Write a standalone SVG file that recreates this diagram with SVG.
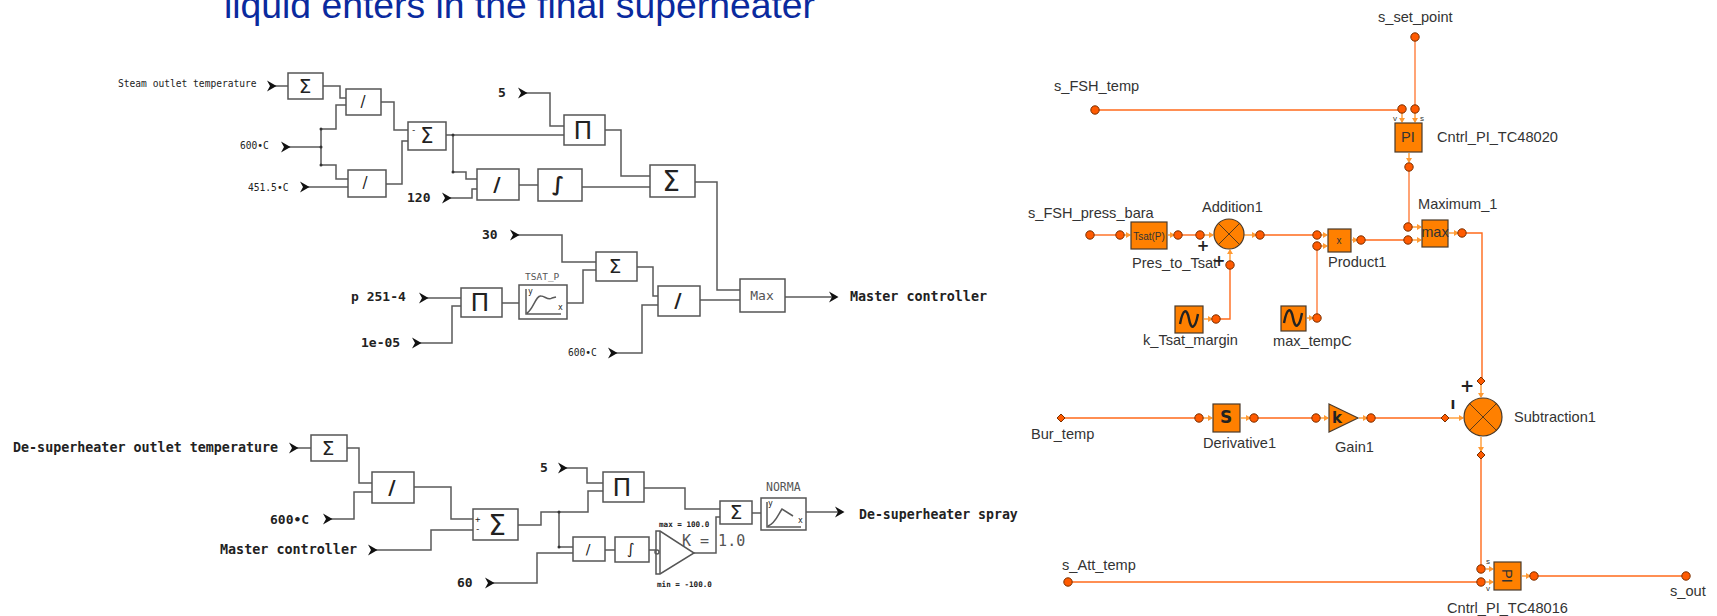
<svg xmlns="http://www.w3.org/2000/svg" width="1717" height="616" viewBox="0 0 1717 616">
<style>
.w{fill:none;stroke:#5a5a5a;stroke-width:1.5}
.b{fill:#fff;stroke:#555;stroke-width:1.5}
.m{font-family:"DejaVu Sans Mono","Liberation Mono",monospace;fill:#222;dominant-baseline:central}
.g{fill:#555}
.sym{font-family:"DejaVu Sans",sans-serif;fill:#222;text-anchor:middle;dominant-baseline:central}
.o{fill:none;stroke:#ff6a1a;stroke-width:1.4}
.ol{fill:none;stroke:#ff9a66;stroke-width:1.8}
.s{fill:none;stroke:#ff9a33;stroke-width:1.4;marker-end:url(#tip)}
.ob{fill:#ff8000;stroke:#4a3a2a;stroke-width:1.2}
.d{fill:#ff5a00;stroke:#7a3000;stroke-width:1}
.t{font-family:"Liberation Sans",Arial,sans-serif;font-size:14.6px;fill:#333;dominant-baseline:central}
.t8{font-size:8px}
.t10{font-size:10px}
.k{fill:none;stroke:#222;stroke-width:2.4}
.x{fill:none;stroke:#5a3a1a;stroke-width:1}
.j{fill:#333}
</style>
<defs>
<marker id="chev" markerUnits="userSpaceOnUse" markerWidth="13" markerHeight="13" refX="3" refY="6" orient="auto"><path d="M0,0.5 L9.5,6 L0,11.5 L3,6Z" fill="#111"/></marker>
<marker id="tip" markerUnits="userSpaceOnUse" markerWidth="6" markerHeight="6" refX="4" refY="3" orient="auto"><path d="M0,0 L5,3 L0,6Z" fill="#ff9a33"/></marker>
<circle id="dot" r="4.2" class="d"/>
<path id="dia" d="M0,-4 L4,0 L0,4 L-4,0Z" class="d"/>
<g id="wave"><path d="M-9,5 C-6,-11 -2,-11 0,0 C2,11 6,11 9,-5" class="k"/></g>
</defs>

<text id="title" x="224" y="18" font-family="Liberation Sans,Arial,sans-serif" font-size="37.3" fill="#0a2a9e">liquid enters in the final superheater</text>

<g id="connectors">
<g id="left-wires">
<path class="w" marker-start="url(#chev)" d="M270,86H288"/>
<path class="w" d="M323,86H340V98H346"/>
<path class="w" marker-start="url(#chev)" d="M284,147H321"/>
<path class="w" d="M321,129V165M321,129H336V105H346M321,165H336V179H348"/>
<path class="w" marker-start="url(#chev)" d="M303,187H348"/>
<path class="w" d="M381,102H394V130H408"/>
<path class="w" d="M386,184H402V141H408"/>
<path class="w" d="M446,135H564"/>
<path class="w" d="M453,135V172H466V179H477"/>
<path class="w" marker-start="url(#chev)" d="M445,198H472V189H477"/>
<path class="w" d="M519,185H538M582,187H650"/>
<path class="w" marker-start="url(#chev)" d="M521,93H550V126H564"/>
<path class="w" d="M605,130H621V176H650"/>
<path class="w" d="M695,182H717V290H740"/>
<path class="w" marker-start="url(#chev)" d="M513,235H562V262H596"/>
<path class="w" marker-start="url(#chev)" d="M422,298H461"/>
<path class="w" marker-start="url(#chev)" d="M415,343H452V306H461"/>
<path class="w" d="M502,303H519M567,303H583V270H596"/>
<path class="w" d="M637,267H653V296H658"/>
<path class="w" marker-start="url(#chev)" d="M611,353H642V305H658"/>
<path class="w" d="M700,300H740"/>
<path class="w" marker-end="url(#chev)" d="M785,297H832"/>
<path class="w" marker-start="url(#chev)" d="M292,448H311"/>
<path class="w" d="M347,448H359V483H372"/>
<path class="w" marker-start="url(#chev)" d="M326,519H354V492H372"/>
<path class="w" d="M414,487H451V519H473"/>
<path class="w" marker-start="url(#chev)" d="M371,550H431V530H473"/>
<path class="w" marker-start="url(#chev)" d="M488,583H537V553H573"/>
<path class="w" d="M518,525H541V512H588V491H603"/>
<path class="w" d="M559,512V547H573"/>
<path class="w" marker-start="url(#chev)" d="M561,468H587V483H603"/>
<path class="w" d="M605,550H615M649,550H656"/>
<path class="w" d="M644,488H685V509H720"/>
<path class="w" d="M694,553H716V517H720"/>
<path class="w" d="M752,513H761"/>
<path class="w" marker-end="url(#chev)" d="M806,512H838"/>
<g class="j"><circle cx="321" cy="147" r="1.5"/><circle cx="321" cy="129" r="1.5"/><circle cx="321" cy="165" r="1.5"/><circle cx="453" cy="135" r="1.5"/><circle cx="453" cy="172" r="1.5"/><circle cx="559" cy="512" r="1.5"/><circle cx="559" cy="547" r="1.5"/></g>
</g>
<g id="right-wires">
<path class="ol" d="M1415,38V109"/>
<path class="o" d="M1095,110H1402"/>
<path class="ol" d="M1409,167V227"/>
<path class="o" d="M1090,235H1120"/>
<path class="o" d="M1178,235H1200"/>
<path class="o" d="M1260,235H1317"/>
<path class="o" d="M1361,240H1408"/>
<path class="o" d="M1230,265V319H1216"/>
<path class="ol" d="M1317,246V318"/>
<path class="o" d="M1462,233H1482V381"/>
<path class="o" d="M1061,418H1199M1254,418H1316M1371,418H1444"/>
<path class="o" d="M1481,455V569"/>
<path class="o" d="M1068,582H1481"/>
<path class="o" d="M1534,576H1686"/>
<path class="s" d="M1402,113V122"/><path class="s" d="M1415,113V122"/><path class="s" d="M1409,153V162"/>
<path class="s" d="M1124,235H1130"/><path class="s" d="M1168,235H1174"/><path class="s" d="M1204,235H1213"/><path class="s" d="M1244,235H1256"/>
<path class="s" d="M1230,261V250"/>
<path class="s" d="M1204,319H1212"/><path class="s" d="M1307,318H1313"/>
<path class="s" d="M1321,235H1327"/><path class="s" d="M1321,246H1327"/><path class="s" d="M1352,240H1357"/>
<path class="s" d="M1412,227H1421"/><path class="s" d="M1412,240H1421"/><path class="s" d="M1449,233H1458"/>
<path class="s" d="M1203,418H1212"/><path class="s" d="M1241,418H1250"/><path class="s" d="M1320,418H1328"/><path class="s" d="M1359,418H1367"/>
<path class="s" d="M1449,418H1463"/><path class="s" d="M1481,385V397"/><path class="s" d="M1481,437V451"/>
<path class="s" d="M1486,569H1493"/><path class="s" d="M1486,582H1493"/><path class="s" d="M1522,576H1530"/>
</g>
</g>

<g id="n-steam"><text class="m" x="118" y="83" font-size="9.6">Steam outlet temperature</text></g>
<g id="n-600a"><text class="m" x="240" y="145" font-size="9.6">600•C</text></g>
<g id="n-451"><text class="m" x="248" y="187" font-size="9.6">451.5•C</text></g>
<g id="n-sum1"><rect class="b" x="288" y="73" width="35" height="26"/><text class="sym" x="305" y="86" font-size="20">Σ</text></g>
<g id="n-div1"><rect class="b" x="346" y="89" width="35" height="26"/><text class="sym" x="363" y="102" font-size="15">/</text></g>
<g id="n-div2"><rect class="b" x="348" y="170" width="38" height="27"/><text class="sym" x="365" y="183" font-size="15">/</text></g>
<g id="n-sum2"><rect class="b" x="408" y="122" width="38" height="28"/><text class="sym" x="427" y="136" font-size="21">Σ</text><text class="m" x="411" y="130" font-size="9">-</text></g>
<g id="n-5a"><text class="m" x="498" y="92" font-size="13" font-weight="bold">5</text></g>
<g id="n-120"><text class="m" x="407" y="197" font-size="13" font-weight="bold">120</text></g>
<g id="n-pi1"><rect class="b" x="564" y="115" width="41" height="30"/><text class="sym" x="583" y="130" font-size="25">Π</text></g>
<g id="n-div3"><rect class="b" x="477" y="169" width="42" height="31"/><text class="sym" x="497" y="184" font-size="20" font-weight="bold">/</text></g>
<g id="n-int1"><rect class="b" x="538" y="169" width="44" height="32"/><text class="sym" x="558" y="184" font-size="20" font-weight="bold">∫</text></g>
<g id="n-sum3"><rect class="b" x="650" y="165" width="45" height="32"/><text class="sym" x="671" y="181" font-size="28">Σ</text></g>
<g id="n-max"><rect class="b" x="740" y="279" width="45" height="33"/><text class="m g" x="762" y="295" font-size="13" text-anchor="middle">Max</text></g>
<g id="n-master-out"><text class="m" x="850" y="296" font-size="13.4" font-weight="bold">Master controller</text></g>
<g id="n-30"><text class="m" x="482" y="234" font-size="13" font-weight="bold">30</text></g>
<g id="n-sum4"><rect class="b" x="596" y="252" width="41" height="29"/><text class="sym" x="615" y="266" font-size="20">Σ</text></g>
<g id="n-div4"><rect class="b" x="658" y="286" width="42" height="30"/><text class="sym" x="678" y="300" font-size="20" font-weight="bold">/</text></g>
<g id="n-p251"><text class="m" x="351" y="296" font-size="13" font-weight="bold">p 251-4</text></g>
<g id="n-1e05"><text class="m" x="361" y="342" font-size="13" font-weight="bold">1e-05</text></g>
<g id="n-pi2"><rect class="b" x="461" y="288" width="41" height="29"/><text class="sym" x="480" y="302" font-size="25">Π</text></g>
<g id="n-tsat"><rect class="b" x="519" y="285" width="48" height="34"/><text class="m g" x="525" y="276" font-size="9.5">TSAT_P</text><path class="w" d="M526,289V314H561M527,313C533,310 536,295 541,296C545,296 548,301 552,298L556,297"/><text class="m" x="528" y="291" font-size="8">y</text><text class="m" x="558" y="307" font-size="8">x</text></g>
<g id="n-600b"><text class="m" x="568" y="352" font-size="9.6">600•C</text></g>

<g id="n-desup"><text class="m" x="13" y="447" font-size="13.35" font-weight="bold">De-superheater outlet temperature</text></g>
<g id="n-sum5"><rect class="b" x="311" y="435" width="36" height="26"/><text class="sym" x="328" y="448" font-size="20">Σ</text></g>
<g id="n-div5"><rect class="b" x="372" y="472" width="42" height="31"/><text class="sym" x="392" y="487" font-size="20" font-weight="bold">/</text></g>
<g id="n-600c"><text class="m" x="270" y="519" font-size="13" font-weight="bold">600•C</text></g>
<g id="n-master-in"><text class="m" x="220" y="549" font-size="13.4" font-weight="bold">Master controller</text></g>
<g id="n-sum6"><rect class="b" x="473" y="509" width="45" height="31"/><text class="sym" x="497" y="525" font-size="28">Σ</text><text class="m" x="475" y="519" font-size="9">+</text><text class="m" x="475" y="529" font-size="9">-</text></g>
<g id="n-60"><text class="m" x="457" y="582" font-size="13" font-weight="bold">60</text></g>
<g id="n-5b"><text class="m" x="540" y="467" font-size="13" font-weight="bold">5</text></g>
<g id="n-pi3"><rect class="b" x="603" y="472" width="41" height="30"/><text class="sym" x="622" y="487" font-size="25">Π</text></g>
<g id="n-div6"><rect class="b" x="573" y="537" width="32" height="24"/><text class="sym" x="588" y="549" font-size="14">/</text></g>
<g id="n-int2"><rect class="b" x="615" y="537" width="34" height="25"/><text class="sym" x="631" y="549" font-size="15">∫</text></g>
<g id="n-gain"><path class="b" d="M656,531H660L694,553L660,574H656Z"/><path class="w" d="M660,531V574"/><circle cx="657" cy="552" r="2" class="w"/><text class="m g" x="682" y="541" font-size="15">K = 1.0</text><text class="m" x="659" y="524" font-size="7.6" font-weight="bold">max = 100.0</text><text class="m" x="657" y="584" font-size="7.6" font-weight="bold">min = -100.0</text></g>
<g id="n-sum7"><rect class="b" x="720" y="501" width="32" height="23"/><text class="sym" x="736" y="512" font-size="20">Σ</text></g>
<g id="n-norma"><rect class="b" x="761" y="498" width="45" height="32"/><text class="m g" x="766" y="487" font-size="11.5">NORMA</text><path class="w" d="M767,502V527H801M768,526C775,524 778,515 782,509L793,516"/><text class="m" x="768" y="503" font-size="8">y</text><text class="m" x="798" y="520" font-size="8">x</text></g>
<g id="n-spray"><text class="m" x="859" y="514" font-size="13.2" font-weight="bold">De-superheater spray</text></g>

<g id="s_set_point"><text class="t" x="1378" y="17">s_set_point</text><use href="#dot" x="1415" y="37"/></g>
<g id="s_FSH_temp"><text class="t" x="1054" y="86">s_FSH_temp</text><use href="#dot" x="1095" y="110"/></g>
<g id="Cntrl_PI_TC48020"><use href="#dot" x="1402" y="109"/><use href="#dot" x="1415" y="109"/><rect class="ob" x="1395" y="123" width="27" height="29"/><text class="t" x="1408" y="137" text-anchor="middle">PI</text><text class="t t8" x="1395" y="118" text-anchor="middle">v</text><text class="t t8" x="1422" y="118" text-anchor="middle">s</text><use href="#dot" x="1409" y="167"/><text class="t" x="1437" y="137">Cntrl_PI_TC48020</text></g>
<g id="s_FSH_press_bara"><text class="t" x="1028" y="213">s_FSH_press_bara</text><use href="#dot" x="1090" y="235"/></g>
<g id="Pres_to_Tsat"><use href="#dot" x="1120" y="235"/><rect class="ob" x="1131" y="222" width="36" height="27"/><text class="t t10" x="1149" y="236" text-anchor="middle">Tsat(P)</text><use href="#dot" x="1178" y="235"/><text class="t" x="1132" y="263">Pres_to_Tsat</text></g>
<g id="Addition1"><use href="#dot" x="1200" y="235"/><circle class="ob" cx="1229" cy="234" r="15"/><path class="x" d="M1218,223L1240,245M1240,223L1218,245"/><use href="#dot" x="1260" y="235"/><use href="#dot" x="1230" y="265"/><text class="t" x="1202" y="207">Addition1</text><text class="sym" x="1203" y="246" font-size="15" font-weight="bold">+</text><text class="sym" x="1219" y="261" font-size="15" font-weight="bold">+</text></g>
<g id="k_Tsat_margin"><rect class="ob" x="1175" y="306" width="28" height="27"/><use href="#wave" x="1189" y="319"/><use href="#dot" x="1216" y="319"/><text class="t" x="1143" y="340">k_Tsat_margin</text></g>
<g id="max_tempC"><rect class="ob" x="1281" y="306" width="25" height="25"/><use href="#wave" x="1293" y="318"/><use href="#dot" x="1317" y="318"/><text class="t" x="1273" y="341">max_tempC</text></g>
<g id="Product1"><use href="#dot" x="1317" y="235"/><use href="#dot" x="1317" y="246"/><rect class="ob" x="1328" y="229" width="23" height="23"/><text class="t t10" x="1339" y="240" text-anchor="middle">x</text><use href="#dot" x="1361" y="240"/><text class="t" x="1328" y="262">Product1</text></g>
<g id="Maximum_1"><use href="#dot" x="1408" y="227"/><use href="#dot" x="1408" y="240"/><rect class="ob" x="1422" y="220" width="26" height="27"/><text class="t" x="1435" y="232" text-anchor="middle">max</text><use href="#dot" x="1462" y="233"/><text class="t" x="1418" y="204">Maximum_1</text></g>
<g id="Bur_temp"><use href="#dia" x="1061" y="418"/><text class="t" x="1031" y="434">Bur_temp</text></g>
<g id="Derivative1"><use href="#dot" x="1199" y="418"/><rect class="ob" x="1213" y="404" width="27" height="28"/><text class="sym" x="1226" y="417" font-size="17" font-weight="bold">S</text><use href="#dot" x="1254" y="418"/><text class="t" x="1203" y="443">Derivative1</text></g>
<g id="Gain1"><use href="#dot" x="1316" y="418"/><path class="ob" d="M1329,404L1358,418L1329,432Z"/><text class="sym" x="1337" y="418" font-size="15" font-weight="bold">k</text><use href="#dot" x="1371" y="418"/><text class="t" x="1335" y="447">Gain1</text></g>
<g id="Subtraction1"><use href="#dia" x="1481" y="381"/><use href="#dia" x="1445" y="418"/><use href="#dia" x="1481" y="455"/><circle class="ob" cx="1483" cy="417" r="19"/><path class="x" d="M1469,403L1497,431M1497,403L1469,431"/><text class="sym" x="1467" y="386" font-size="17" font-weight="bold">+</text><text class="sym" x="1453" y="404" font-size="13" font-weight="bold">I</text><text class="t" x="1514" y="417">Subtraction1</text></g>
<g id="s_Att_temp"><text class="t" x="1062" y="565">s_Att_temp</text><use href="#dot" x="1068" y="582"/></g>
<g id="Cntrl_PI_TC48016"><use href="#dot" x="1481" y="569"/><use href="#dot" x="1481" y="582"/><rect class="ob" x="1494" y="562" width="27" height="28"/><text class="t" transform="rotate(90 1507 576)" x="1507" y="576" text-anchor="middle">PI</text><text class="t t8" x="1488" y="561" text-anchor="middle">s</text><text class="t t8" x="1488" y="588" text-anchor="middle">v</text><use href="#dot" x="1534" y="576"/><text class="t" x="1447" y="608">Cntrl_PI_TC48016</text></g>
<g id="s_out"><use href="#dot" x="1686" y="576"/><text class="t" x="1670" y="591">s_out</text></g>
</svg>
